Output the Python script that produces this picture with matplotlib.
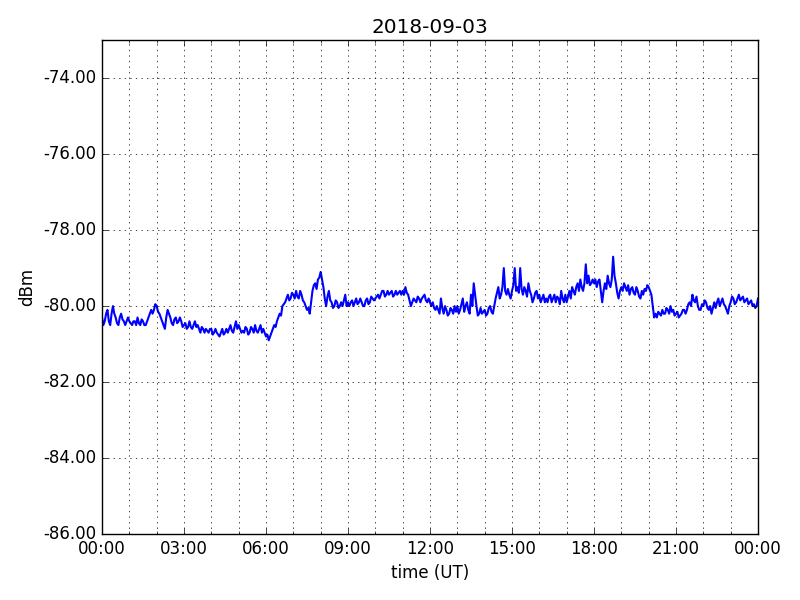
import datetime as dt
import numpy as np
import matplotlib
matplotlib.use('Agg')
import matplotlib.pyplot as plt
import matplotlib.dates as mdates
from matplotlib.ticker import FormatStrFormatter

DAY = dt.datetime(2018, 9, 3)

# signal level (dBm) on the full 6-minute marks, 10 per hour
level = [
    -80.3, -80.4, -80.1, -80.5, -80.0, -80.3, -80.5, -80.2, -80.4, -80.4,   # 00h
    -80.4, -80.5, -80.4, -80.3, -80.5, -80.4, -80.5, -80.3, -80.1, -80.1,   # 01h
    -80.0, -80.2, -80.4, -80.6, -80.1, -80.3, -80.5, -80.3, -80.4, -80.4,   # 02h
    -80.5, -80.6, -80.4, -80.6, -80.4, -80.5, -80.7, -80.6, -80.6, -80.7,   # 03h
    -80.6, -80.7, -80.7, -80.8, -80.6, -80.7, -80.7, -80.5, -80.7, -80.4,   # 04h
    -80.5, -80.7, -80.7, -80.6, -80.7, -80.6, -80.5, -80.7, -80.5, -80.6,   # 05h
    -80.8, -80.9, -80.7, -80.5, -80.4, -80.2, -80.0, -79.9, -79.7, -79.8,   # 06h
    -79.7, -79.6, -79.8, -79.7, -79.9, -80.1, -80.2, -79.6, -79.4, -79.3,   # 07h
    -79.1, -79.5, -80.0, -79.6, -79.9, -80.0, -79.9, -80.0, -80.0, -79.7,   # 08h
    -79.9, -79.9, -80.0, -79.8, -79.9, -79.9, -80.0, -79.8, -79.9, -79.8,   # 09h
    -79.8, -79.7, -79.7, -79.6, -79.7, -79.7, -79.6, -79.7, -79.7, -79.6,   # 10h
    -79.6, -79.5, -79.7, -80.0, -79.8, -79.9, -79.8, -79.8, -79.7, -79.9,   # 11h
    -79.9, -79.9, -80.1, -80.1, -79.8, -80.2, -80.1, -80.2, -80.1, -80.0,   # 12h
    -80.0, -80.1, -79.8, -80.0, -80.1, -79.7, -79.4, -80.0, -80.2, -80.2,   # 13h
    -80.1, -80.2, -80.0, -80.2, -79.8, -79.5, -79.7, -79.0, -79.7, -79.7,   # 14h
    -79.6, -79.0, -79.5, -79.0, -79.7, -79.6, -79.4, -79.7, -79.8, -79.6,   # 15h
    -79.7, -79.8, -79.9, -79.9, -79.7, -79.8, -79.9, -79.8, -79.6, -79.9,   # 16h
    -79.9, -79.6, -79.5, -79.7, -79.4, -79.3, -79.6, -78.9, -79.2, -79.4,   # 17h
    -79.4, -79.5, -79.3, -79.9, -79.4, -79.2, -79.5, -78.7, -79.4, -79.8,   # 18h
    -79.5, -79.4, -79.6, -79.7, -79.5, -79.7, -79.6, -79.8, -79.7, -79.6,   # 19h
    -79.5, -79.7, -80.3, -80.3, -80.2, -80.1, -80.2, -80.1, -80.0, -80.1,   # 20h
    -80.2, -80.3, -80.2, -80.1, -80.1, -79.9, -79.7, -79.9, -80.0, -80.1,   # 21h
    -80.0, -79.9, -80.1, -80.2, -79.9, -79.9, -80.0, -79.8, -80.0, -80.2,   # 22h
    -79.9, -79.8, -79.9, -79.7, -79.8, -79.9, -79.8, -79.9, -80.0, -80.05,  # 23h
    -79.8,
]

# readings taken 3 minutes after each of the above
level_mid = [
    -80.5, -80.2, -80.4, -80.2, -80.2, -80.45, -80.3, -80.35, -80.5, -80.3,
    -80.45, -80.4, -80.5, -80.45, -80.35, -80.5, -80.4, -80.2, -80.2, -79.95,
    -80.15, -80.3, -80.5, -80.3, -80.2, -80.45, -80.35, -80.45, -80.3, -80.55,
    -80.45, -80.55, -80.55, -80.5, -80.55, -80.6, -80.55, -80.7, -80.65, -80.6,
    -80.75, -80.6, -80.75, -80.7, -80.75, -80.6, -80.6, -80.65, -80.55, -80.6,
    -80.6, -80.65, -80.55, -80.75, -80.55, -80.7, -80.65, -80.6, -80.7, -80.7,
    -80.75, -80.8, -80.6, -80.55, -80.3, -80.25, -79.95, -79.8, -79.85, -79.65,
    -79.8, -79.75, -79.6, -79.85, -80.0, -80.05, -79.9, -79.45, -79.55, -79.25,
    -79.3, -79.8, -79.75, -79.85, -80.05, -79.85, -80.05, -79.9, -79.85, -80.0,
    -80.0, -79.85, -79.9, -79.95, -79.8, -80.0, -79.85, -79.95, -79.75, -79.85,
    -79.75, -79.8, -79.6, -79.75, -79.6, -79.65, -79.75, -79.6, -79.65, -79.7,
    -79.7, -79.65, -79.85, -79.9, -79.85, -79.75, -79.9, -79.75, -79.85, -79.8,
    -80.0, -80.05, -80.0, -80.2, -80.05, -80.0, -80.25, -80.05, -80.2, -80.15,
    -80.2, -79.95, -80.15, -79.9, -80.2, -80.0, -79.7, -80.25, -80.05, -80.15,
    -80.25, -80.05, -80.15, -80.0, -79.65, -79.8, -79.5, -79.6, -79.55, -79.8,
    -79.45, -79.6, -79.65, -79.55, -79.5, -79.75, -79.6, -79.9, -79.65, -79.8,
    -79.9, -79.7, -79.8, -79.75, -79.9, -79.7, -79.75, -79.95, -79.8, -79.7,
    -79.75, -79.8, -79.6, -79.5, -79.6, -79.5, -79.4, -79.4, -79.45, -79.3,
    -79.3, -79.35, -79.6, -79.6, -79.55, -79.4, -79.3, -79.2, -79.65, -79.6,
    -79.6, -79.5, -79.45, -79.55, -79.65, -79.5, -79.75, -79.6, -79.55, -79.45,
    -79.6, -80.0, -80.2, -80.15, -80.25, -80.2, -80.05, -80.2, -80.15, -80.25,
    -80.15, -80.25, -80.1, -80.2, -79.95, -80.0, -79.85, -79.75, -80.1, -79.95,
    -79.85, -80.05, -80.0, -80.05, -80.05, -79.8, -79.9, -79.95, -80.1, -80.0,
    -79.75, -79.95, -79.8, -79.85, -79.75, -79.85, -79.95, -79.85, -79.95, -80.0,
]

# merge both sets onto one 3-minute time axis
times, values = [], []
for i, v in enumerate(level):
    times.append(DAY + dt.timedelta(minutes=6 * i))
    values.append(v)
    if i < len(level_mid):
        times.append(DAY + dt.timedelta(minutes=6 * i + 3))
        values.append(level_mid[i])

plt.style.use('classic')
fig = plt.figure(figsize=(8, 6), dpi=100, facecolor='white')
ax = fig.add_axes([0.1275, 0.11, 0.82, 0.823])

ax.plot(times, values, color='b', lw=1.5)

ax.set_xlim(DAY, DAY + dt.timedelta(days=1))
ax.set_ylim(-86, -73)
ax.set_yticks(np.arange(-86, -73, 2))
ax.yaxis.set_major_formatter(FormatStrFormatter('%.2f'))

ax.xaxis.set_major_locator(mdates.HourLocator(byhour=range(0, 24, 3)))
ax.xaxis.set_minor_locator(mdates.HourLocator())
ax.xaxis.set_major_formatter(mdates.DateFormatter('%H:%M'))

ax.grid(True, which='major')
ax.grid(True, which='minor', axis='x')

ax.set_title('2018-09-03')
ax.set_xlabel('time (UT)')
ax.set_ylabel('dBm')

fig.savefig('out.png', facecolor='white')
